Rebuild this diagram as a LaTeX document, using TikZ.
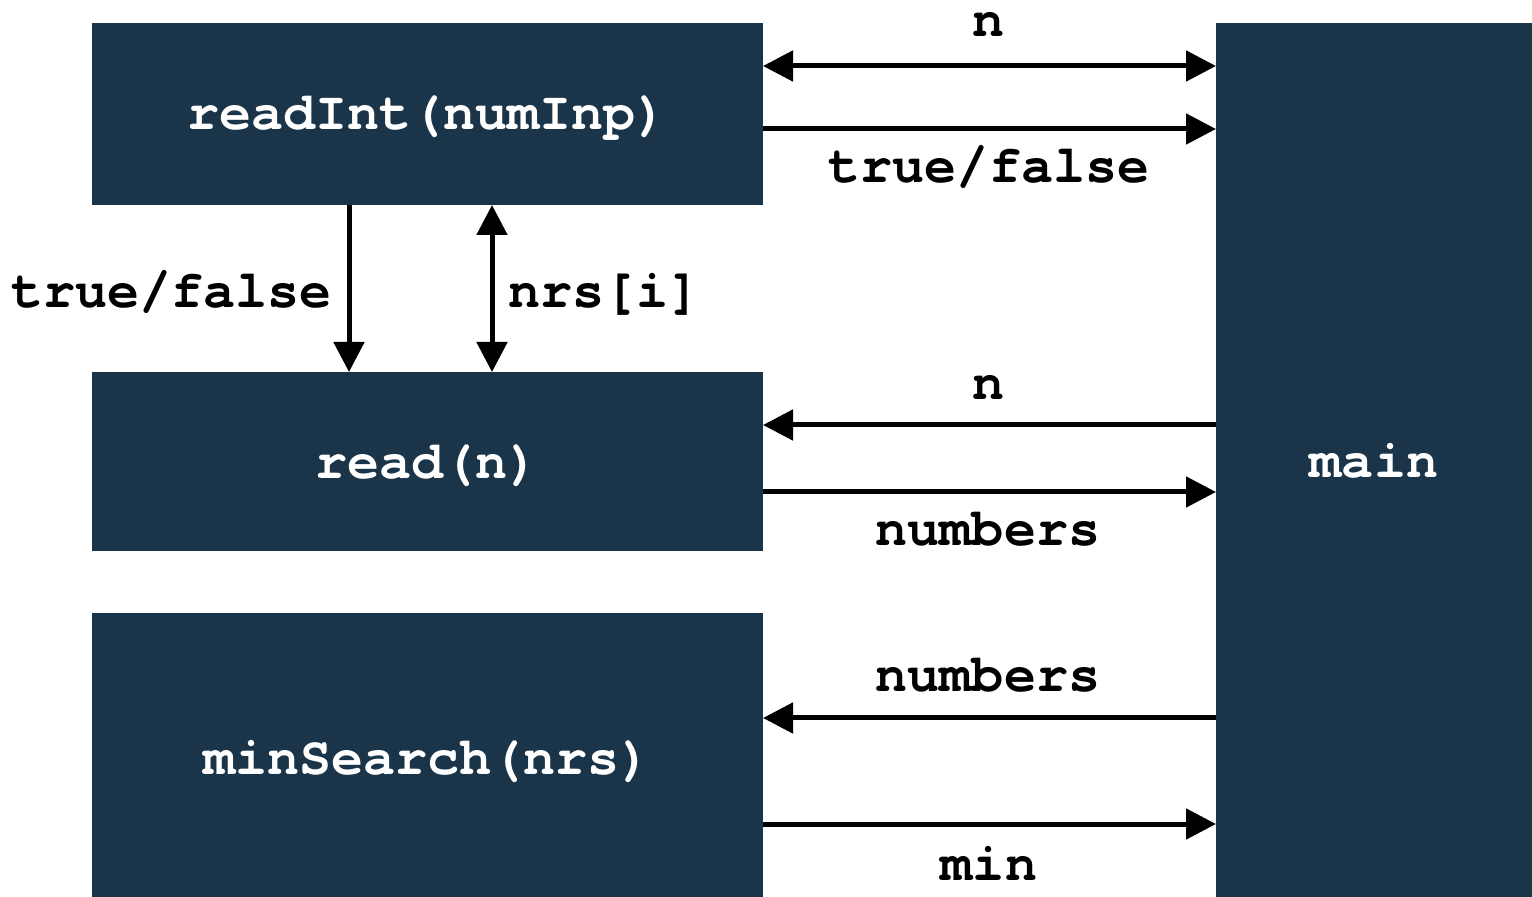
\documentclass[tikz,border=0pt]{standalone}
\usepackage{fontspec}
\setmonofont{TeX Gyre Cursor}
\usetikzlibrary{arrows.meta}
\definecolor{navy}{HTML}{1A3549}
\begin{document}
\begin{tikzpicture}[x=0.5pt,y=-0.5pt,
  box/.style={fill=navy,draw=none,rectangle,inner sep=0pt,outer sep=0pt},
  boxtext/.style={font=\ttfamily\bfseries\fontsize{26.7}{30}\selectfont,inner sep=0pt,text=white,yshift=-2pt},
  arr/.style={line width=2.5pt,-{Triangle[length=15pt,width=15pt]}},
  darr/.style={line width=2.5pt,{Triangle[length=15pt,width=15pt]}-{Triangle[length=15pt,width=15pt]}},
  lbl/.style={font=\ttfamily\bfseries\fontsize{26.7}{30}\selectfont,inner sep=0pt}]
\useasboundingbox (0,0) rectangle (1532,897);
\node[box,minimum width=335.5pt,minimum height=91pt,label={[boxtext]center:readInt(numInp)}] (ri) at (427.5,114) {};
\node[box,minimum width=335.5pt,minimum height=89.5pt,label={[boxtext]center:read(n)}] (rd) at (427.5,461.5) {};
\node[box,minimum width=335.5pt,minimum height=142pt,label={[boxtext,yshift=-1pt]center:minSearch(nrs)}] (ms) at (427.5,755) {};
\node[box,minimum width=158pt,minimum height=437pt,label={[boxtext,yshift=1.5pt]center:main}] (mn) at (1374,460) {};
% readInt <-> main
\draw[darr] (ri.east |- 0,66) -- (mn.west |- 0,66);
\node[lbl,anchor=base] (l1) at (989,37) {n};
\draw[arr] (ri.east |- 0,129) -- (mn.west |- 0,129);
\node[lbl,anchor=base] (l2) at (989,183) {true/false};
% readInt <-> read
\draw[arr] (ri.south -| 349,0) -- (rd.north -| 349,0);
\node[lbl,anchor=base east] (l3) at (332,308) {true/false};
\draw[darr] (ri.south -| 492,0) -- (rd.north -| 492,0);
\node[lbl,anchor=base west] (l4) at (508,308) {nrs[i]};
% main <-> read
\draw[arr] (mn.west |- 0,425) -- (rd.east |- 0,425);
\node[lbl,anchor=base] (l5) at (989,400) {n};
\draw[arr] (rd.east |- 0,492) -- (mn.west |- 0,492);
\node[lbl,anchor=base] (l6) at (988,546) {numbers};
% main <-> minSearch
\draw[arr] (mn.west |- 0,718) -- (ms.east |- 0,718);
\node[lbl,anchor=base] (l7) at (988,692) {numbers};
\draw[arr] (ms.east |- 0,824) -- (mn.west |- 0,824);
\node[lbl,anchor=base] (l8) at (989,880) {min};
\end{tikzpicture}
\end{document}
